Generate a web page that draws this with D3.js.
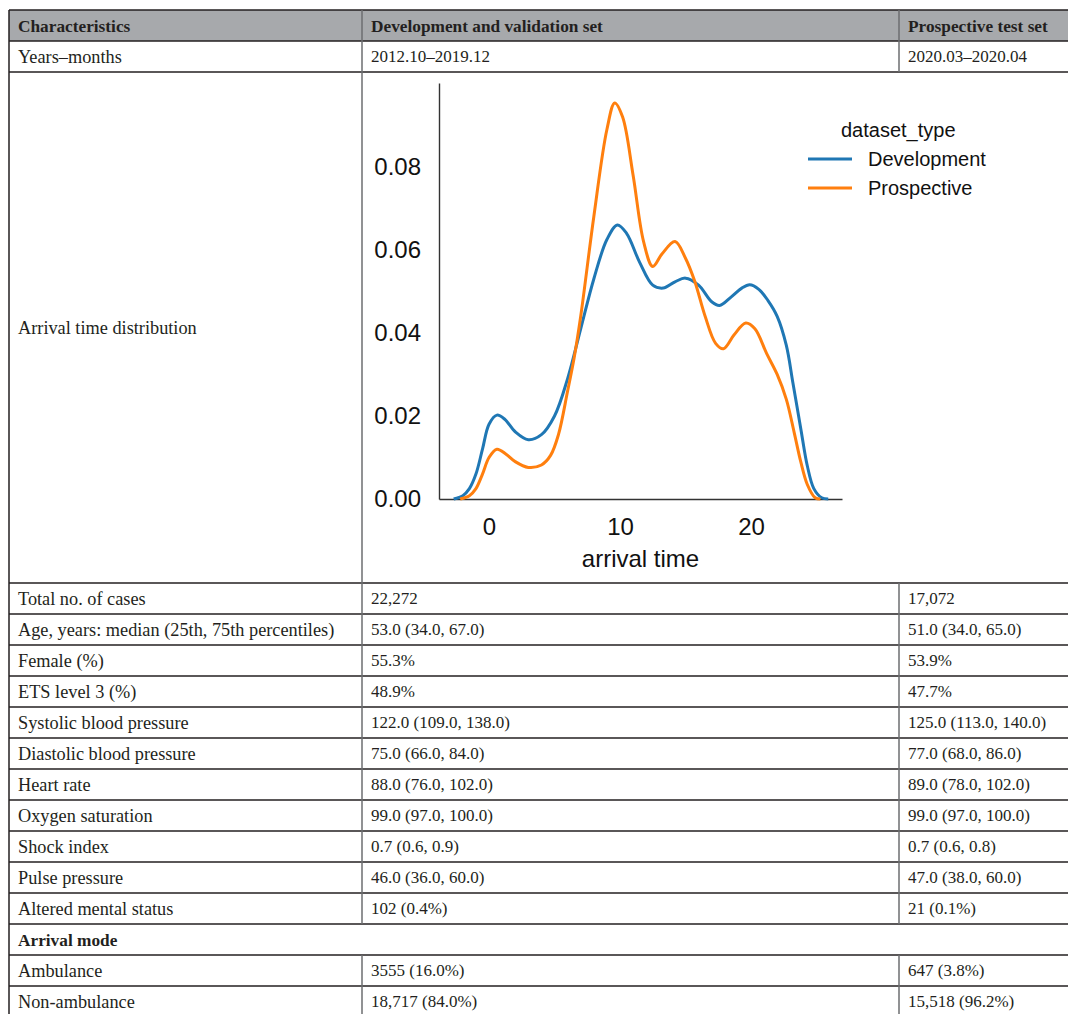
<!DOCTYPE html>
<html>
<head>
<meta charset="utf-8">
<script src="https://cdn.jsdelivr.net/npm/d3@7"></script>
<style>
  html, body { margin: 0; padding: 0; background: #fff; }
  svg { display: block; }
  .cell { font-family: "Liberation Serif", "Times New Roman", serif; font-size: 17px; fill: #231f20; }
  .label { font-size: 18.3px; }
  .bold { font-weight: bold; font-size: 17.3px; }
  .plot text { font-family: "Liberation Sans", Arial, sans-serif; fill: #111; }
</style>
</head>
<body>
<div class="chart-container"></div>
<script>
// table contents
const columns = ['Characteristics', 'Development and validation set', 'Prospective test set'];
const periodRow = ['Years\u2013months', '2012.10\u20132019.12', '2020.03\u20132020.04'];
const chartRowLabel = 'Arrival time distribution';
const rowLabels = ['Total no. of cases', 'Age, years: median (25th, 75th percentiles)', 'Female (%)',
  'ETS level 3 (%)', 'Systolic blood pressure', 'Diastolic blood pressure', 'Heart rate',
  'Oxygen saturation', 'Shock index', 'Pulse pressure', 'Altered mental status',
  'Arrival mode', 'Ambulance', 'Non-ambulance'];
const devValues = ['22,272', '53.0 (34.0, 67.0)', '55.3%', '48.9%', '122.0 (109.0, 138.0)',
  '75.0 (66.0, 84.0)', '88.0 (76.0, 102.0)', '99.0 (97.0, 100.0)', '0.7 (0.6, 0.9)',
  '46.0 (36.0, 60.0)', '102 (0.4%)', '', '3555 (16.0%)', '18,717 (84.0%)'];
const proValues = ['17,072', '51.0 (34.0, 65.0)', '53.9%', '47.7%', '125.0 (113.0, 140.0)',
  '77.0 (68.0, 86.0)', '89.0 (78.0, 102.0)', '99.0 (97.0, 100.0)', '0.7 (0.6, 0.8)',
  '47.0 (38.0, 60.0)', '21 (0.1%)', '', '647 (3.8%)', '15,518 (96.2%)'];
const sectionRows = ['Arrival mode'];

// KDE of arrival time
const seriesNames = ['Development', 'Prospective'];
const devTime = [-2.7, -2.0, -1.5, -1.0, -0.5, 0.0, 0.6, 1.2, 2.0, 3.0, 4.0, 5.0, 6.0, 7.0, 8.0, 9.0, 9.8,
  10.5, 11.5, 12.5, 13.3, 14.2, 15.0, 16.0, 17.0, 17.6, 18.5, 19.3, 19.9, 20.6, 21.3, 22.0, 22.7, 23.2,
  23.8, 24.3, 24.8, 25.4, 25.9];
const devDensity = [0, 0.0008, 0.0025, 0.0060, 0.0120, 0.0180, 0.0202, 0.0192, 0.0162, 0.0143, 0.0155,
  0.0200, 0.0290, 0.0410, 0.0530, 0.0625, 0.0660, 0.0640, 0.0570, 0.0515, 0.0508, 0.0523, 0.0532,
  0.0515, 0.0475, 0.0466, 0.0487, 0.0508, 0.0516, 0.0505, 0.0478, 0.0440, 0.0370, 0.0280, 0.0170,
  0.0080, 0.0025, 0.0003, 0];
const proTime = [-2.2, -1.5, -1.0, -0.5, 0.0, 0.6, 1.3, 2.0, 3.0, 4.0, 4.7, 5.3, 6.0, 6.5, 7.0, 8.0, 9.0,
  9.6, 10.2, 11.0, 11.8, 12.5, 13.2, 14.2, 15.0, 15.7, 16.5, 17.3, 17.9, 18.7, 19.6, 20.3, 21.2, 22.0,
  22.7, 23.3, 23.8, 24.3, 24.9, 25.3];
const proDensity = [0, 0.0008, 0.0025, 0.0060, 0.0100, 0.0120, 0.0108, 0.0090, 0.0076, 0.0082, 0.0105,
  0.0155, 0.0260, 0.0340, 0.0440, 0.0680, 0.0890, 0.0954, 0.0920, 0.0780, 0.0620, 0.0560, 0.0590,
  0.0620, 0.0580, 0.0525, 0.0440, 0.0375, 0.0362, 0.0395, 0.0424, 0.0410, 0.0350, 0.0300, 0.0240,
  0.0160, 0.0090, 0.0035, 0.0003, 0];
const timeTicks = [0, 10, 20];
const densityTicks = [0, 0.02, 0.04, 0.06, 0.08];

const W = 1068, H = 1014;
const colX = [9, 362, 899, 1075];
const rowH = 31;
const top0 = 10;
const chartTop = top0 + 2 * rowH, chartBottom = 583;

const svg = d3.select('.chart-container')
    .append('svg')
    .attr('width', W)
    .attr('height', H);

const lineColor = '#231f20';
const vColor = '#6d6e71';

// header band
svg.append('rect')
    .attr('x', colX[0]).attr('y', top0)
    .attr('width', colX[3] - colX[0]).attr('height', rowH)
    .attr('fill', '#a7a9ac');

function cellText(x, y, txt, cls) {
    svg.append('text')
        .attr('class', 'cell ' + cls)
        .attr('x', x + 9)
        .attr('y', y + rowH / 2)
        .attr('dy', '0.35em')
        .text(txt);
}

columns.forEach((c, i) => cellText(colX[i], top0, c, 'bold'));
periodRow.forEach((c, i) => cellText(colX[i], top0 + rowH, c, i === 0 ? 'label' : ''));
svg.append('text')
    .attr('class', 'cell label')
    .attr('x', colX[0] + 9)
    .attr('y', (chartTop + chartBottom) / 2)
    .attr('dy', '0.35em')
    .text(chartRowLabel);

rowLabels.forEach((lab, i) => {
    const y = chartBottom + i * rowH;
    const section = sectionRows.includes(lab);
    cellText(colX[0], y, lab, section ? 'bold' : 'label');
    if (!section) {
        cellText(colX[1], y, devValues[i], '');
        cellText(colX[2], y, proValues[i], '');
    }
});

// horizontal rules
const hLines = [top0, top0 + rowH, chartTop, chartBottom];
rowLabels.forEach((d, i) => hLines.push(chartBottom + (i + 1) * rowH));
svg.append('g')
    .selectAll('line')
    .data(hLines)
    .enter()
    .append('line')
    .attr('x1', colX[0]).attr('x2', W)
    .attr('y1', d => d).attr('y2', d => d)
    .attr('stroke', lineColor)
    .attr('stroke-width', 1.4);

// vertical rules, segments per row
const vSegs = [];
vSegs.push([colX[0], top0, H]);
vSegs.push([colX[1], top0, chartTop]);
vSegs.push([colX[2], top0, chartTop]);
vSegs.push([colX[1], chartTop, chartBottom]);
rowLabels.forEach((lab, i) => {
    if (sectionRows.includes(lab)) return;
    const y = chartBottom + i * rowH;
    vSegs.push([colX[1], y, y + rowH]);
    vSegs.push([colX[2], y, y + rowH]);
});
svg.append('g')
    .selectAll('line')
    .data(vSegs)
    .enter()
    .append('line')
    .attr('x1', d => d[0]).attr('x2', d => d[0])
    .attr('y1', d => d[1]).attr('y2', d => d[2])
    .attr('stroke', (d, i) => i === 0 ? lineColor : vColor)
    .attr('stroke-width', 1.5);

// embedded density plot
const plot = svg.append('g').attr('class', 'plot');
const x = d3.scaleLinear().domain([-3.82, 26.95]).range([439, 842]);
const y = d3.scaleLinear().domain([0, 0.1002]).range([499, 83]);

const xAxis = plot.append('g')
    .attr('transform', 'translate(0,499)')
    .call(d3.axisBottom(x).tickValues(timeTicks).tickSize(0).tickPadding(19).tickSizeOuter(0));
const yAxis = plot.append('g')
    .attr('transform', 'translate(439,0)')
    .call(d3.axisLeft(y).tickValues(densityTicks).tickFormat(d3.format('.2f')).tickSize(0).tickPadding(18).tickSizeOuter(0));
[xAxis, yAxis].forEach(a => {
    a.select('.domain').attr('stroke', '#333').attr('stroke-width', 1.4);
    a.selectAll('text').style('font-size', '24px').style('font-family', '"Liberation Sans", Arial, sans-serif').attr('fill', '#111');
});

plot.append('text')
    .attr('x', (439 + 842) / 2)
    .attr('y', 567)
    .attr('text-anchor', 'middle')
    .style('font-size', '24px')
    .text('arrival time');

const colors = d3.scaleOrdinal().domain(seriesNames).range(['#1f77b4', '#ff7f0e']);
const series = [
    { name: seriesNames[0], pts: devTime.map((t, i) => [t, devDensity[i]]) },
    { name: seriesNames[1], pts: proTime.map((t, i) => [t, proDensity[i]]) }
];
const line = d3.line()
    .x(d => x(d[0]))
    .y(d => y(Math.max(0, d[1])))
    .curve(d3.curveCatmullRom.alpha(0.5));
plot.append('g')
    .selectAll('path')
    .data(series)
    .enter()
    .append('path')
    .attr('d', d => line(d.pts))
    .attr('fill', 'none')
    .attr('stroke', d => colors(d.name))
    .attr('stroke-width', 3)
    .attr('stroke-linejoin', 'round');

// legend
const legend = plot.append('g');
legend.append('text')
    .attr('x', 841)
    .attr('y', 137)
    .style('font-size', '20px')
    .text('dataset_type');
const items = legend.selectAll('.item')
    .data(seriesNames)
    .enter()
    .append('g')
    .attr('class', 'item')
    .attr('transform', (d, i) => `translate(0,${159 + i * 29})`);
items.append('line')
    .attr('x1', 808).attr('x2', 852)
    .attr('stroke', d => colors(d))
    .attr('stroke-width', 3);
items.append('text')
    .attr('x', 868)
    .attr('dy', '0.35em')
    .style('font-size', '20px')
    .text(d => d);
</script>
</body>
</html>
